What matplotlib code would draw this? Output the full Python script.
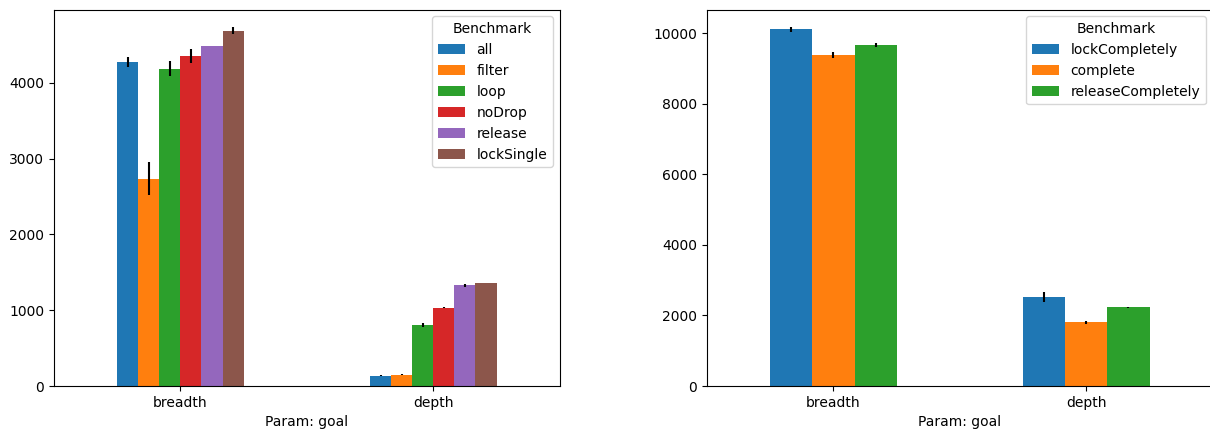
import matplotlib.pyplot as plt
import numpy as np

params = ["breadth", "depth"]

left_names = ["all", "filter", "loop", "noDrop", "release", "lockSingle"]
left_means = [
    [4280, 137],
    [2735, 150],
    [4190, 810],
    [4355, 1035],
    [4488, 1330],
    [4690, 1360],
]
left_errs = [
    [65, 5],
    [220, 3],
    [100, 25],
    [90, 10],
    [5, 18],
    [43, 5],
]

right_names = ["lockCompletely", "complete", "releaseCompletely"]
right_means = [
    [10100, 2520],
    [9375, 1805],
    [9660, 2228],
]
right_errs = [
    [58, 137],
    [80, 40],
    [65, 10],
]


def bar_group(ax, names, means, errs):
    n = len(names)
    width = 0.5 / n
    x = np.arange(len(params))
    for i, name in enumerate(names):
        pos = x - 0.25 + width * (i + 0.5)
        ax.bar(pos, means[i], width, yerr=errs[i], label=name,
               color=f"C{i}", ecolor="black")
    ax.set_xticks(x)
    ax.set_xticklabels(params)
    ax.set_xlim(-0.5, len(params) - 0.5)
    ax.set_xlabel("Param: goal")
    ax.legend(title="Benchmark", loc="upper right")


fig = plt.figure(figsize=(12.1, 4.3), dpi=100)
ax1 = fig.add_axes([0.0446, 0.1023, 0.418, 0.8756])
ax2 = fig.add_axes([0.5843, 0.1023, 0.418, 0.8756])

bar_group(ax1, left_names, left_means, left_errs)
bar_group(ax2, right_names, right_means, right_errs)

fig.savefig("out.png", dpi=100)
